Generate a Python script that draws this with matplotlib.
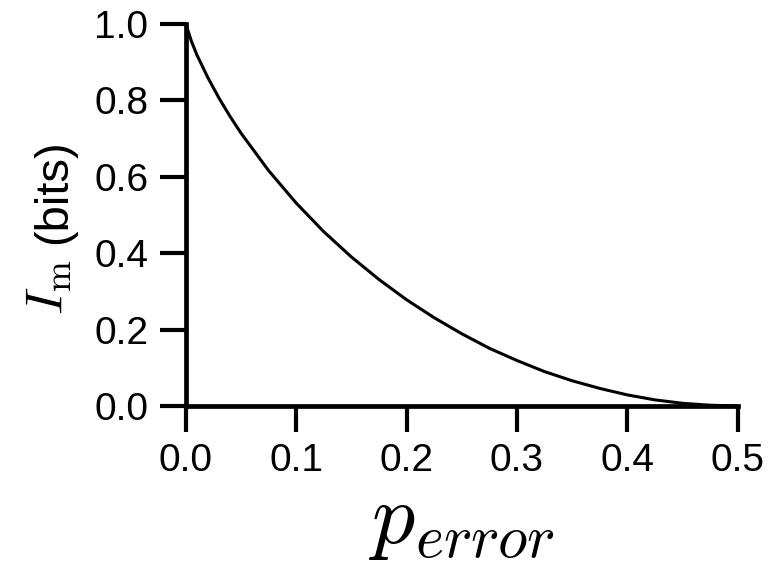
import matplotlib
matplotlib.use("Agg")
import matplotlib.pyplot as plt

p_error = [0.0, 0.005, 0.01, 0.02, 0.03, 0.04, 0.05, 0.075, 0.1, 0.125, 0.15, 0.175,
           0.2, 0.225, 0.25, 0.275, 0.3, 0.325, 0.35, 0.375, 0.4, 0.425, 0.45, 0.475, 0.5]
info_bits = [1.0, 0.955, 0.919, 0.859, 0.806, 0.758, 0.714, 0.616, 0.531, 0.456, 0.390, 0.331,
             0.278, 0.231, 0.189, 0.151, 0.119, 0.090, 0.066, 0.046, 0.029, 0.016, 0.007, 0.002, 0.0]
x_ticks = [0.0, 0.1, 0.2, 0.3, 0.4, 0.5]
y_ticks = [0.0, 0.2, 0.4, 0.6, 0.8, 1.0]

plt.rcParams['font.family'] = ['Liberation Sans', 'DejaVu Sans']
plt.rcParams['mathtext.fontset'] = 'cm'

W, H = 784, 562
fig = plt.figure(figsize=(W / 100, H / 100), dpi=100)
ax = fig.add_axes([0.237, 0.2776, 0.704, 0.680])
ax.plot(p_error, info_bits, color='black', lw=2.2, solid_capstyle='butt')
ax.set_xlim(0, 0.5)
ax.set_ylim(0, 1.0)
ax.set_xticks(x_ticks)
ax.set_yticks(y_ticks)
ax.set_xticklabels([f"{v:.1f}" for v in x_ticks])
ax.set_yticklabels([f"{v:.1f}" for v in y_ticks])
for s in ['top', 'right']:
    ax.spines[s].set_visible(False)
for s in ['left', 'bottom']:
    ax.spines[s].set_linewidth(3.4)
ax.tick_params(axis='both', direction='out', length=19, width=3.0, labelsize=28, pad=8)
ax.set_xlabel(r"$p_{error}$", fontsize=62, labelpad=2)

# y label: larger math symbol followed by the unit
fig.text(63 / W, 1 - 315 / H, r"$I_{\rm m}$", rotation=90, rotation_mode='anchor',
         ha='left', va='baseline', fontsize=38)
fig.text(66 / W, 1 - 244 / H, "(bits)", rotation=90, rotation_mode='anchor',
         ha='left', va='baseline', fontsize=34)
fig.savefig("out.png", dpi=100)
